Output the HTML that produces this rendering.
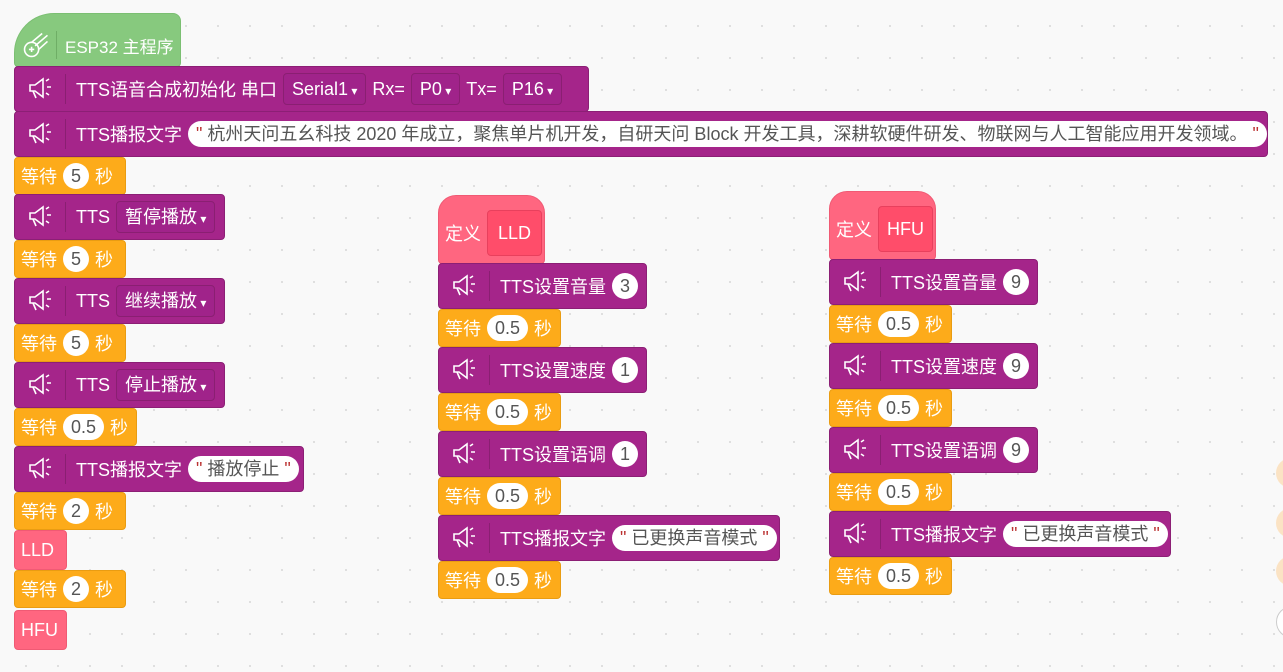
<!DOCTYPE html>
<html><head><meta charset="utf-8"><style>
body{margin:0;width:1283px;height:672px;overflow:hidden;background:#f9f9f9;background-image:radial-gradient(#ddd 1px,transparent 1.2px);background-size:32px 32px;background-position:10px 10px;font-family:"Liberation Sans","Noto Sans CJK SC",sans-serif;position:relative}
.b{position:absolute;box-sizing:border-box;color:#fff;font-size:18px;display:flex;align-items:center;white-space:nowrap;border-radius:4px}
.b svg{flex-shrink:0}
.p{background:#a5258a;border:1px solid #8c1f75;height:46px}
.o{background:#fdab1a;border:1px solid #e99c12;height:38px;padding-left:6px}
.k{background:#ff6680;border:1px solid #f05a74;height:40px;padding-left:6px}
.ic{width:50px;height:30px;border-right:1px solid #8a1f72;display:flex;align-items:center;justify-content:center;margin-right:10px;flex-shrink:0}
.pill{background:#fff;color:#555;border-radius:14px;height:26px;line-height:26px;padding:0 8px;margin:0 6px;font-size:18px}
.dd{border:1px solid #8a1f72;background:#a0238a;border-radius:4px;height:30px;line-height:30px;padding:0 8px;margin:0 6px}
.dd:after{content:" ▾";font-size:12px}
.q{color:#b33}
</style></head><body>
<svg width="0" height="0" style="position:absolute"><defs><g id="sp" fill="none" stroke="#fff" stroke-width="1.6"><path d="M3 9h5l8-6v18l-8-6H3z"/><path d="M6 15l3 7"/><path d="M19 5l3-2M20 11h4M19 17l3 2"/></g></defs></svg>

<div class="b" style="left:14px;top:13px;height:54px;background:#87c97e;border-radius:40px 8px 4px 4px;border:1px solid #7bbf72;padding:10px 6px 0 6px;font-size:17px">
<svg width="30" height="30" viewBox="0 0 34 34" fill="none" stroke="#fff" stroke-width="1.8"><circle cx="12" cy="22" r="8"/><path d="M9 22h6M12 19v6"/><path d="M12 14l12-10M16 18l14-12M20 22l10-9"/></svg>
<span style="border-left:1px solid #6fae66;height:28px;margin:0 8px 0 5px"></span><span>ESP32 主程序</span></div>

<div class="b p" style="left:14px;top:66px;width:575px"><span class="ic"><svg width="26" height="26"><use href="#sp"/></svg></span>TTS语音合成初始化 串口<span class="dd">Serial1</span>Rx=<span class="dd">P0</span>Tx=<span class="dd">P16</span></div>
<div class="b p" style="left:14px;top:111px;width:1254px"><span class="ic"><svg width="26" height="26"><use href="#sp"/></svg></span>TTS播报文字<span class="pill"><span class="q">"</span> 杭州天问五幺科技 2020 年成立，聚焦单片机开发，自研天问 Block 开发工具，深耕软硬件研发、物联网与人工智能应用开发领域。 <span class="q">"</span></span></div>
<div class="b o" style="left:14px;top:157px;width:112px">等待<span class="pill">5</span>秒</div>
<div class="b p" style="left:14px;top:194px;width:211px"><span class="ic"><svg width="26" height="26"><use href="#sp"/></svg></span>TTS<span class="dd">暂停播放</span></div>
<div class="b o" style="left:14px;top:240px;width:112px">等待<span class="pill">5</span>秒</div>
<div class="b p" style="left:14px;top:278px;width:211px"><span class="ic"><svg width="26" height="26"><use href="#sp"/></svg></span>TTS<span class="dd">继续播放</span></div>
<div class="b o" style="left:14px;top:324px;width:112px">等待<span class="pill">5</span>秒</div>
<div class="b p" style="left:14px;top:362px;width:211px"><span class="ic"><svg width="26" height="26"><use href="#sp"/></svg></span>TTS<span class="dd">停止播放</span></div>
<div class="b o" style="left:14px;top:408px;width:123px">等待<span class="pill">0.5</span>秒</div>
<div class="b p" style="left:14px;top:446px;width:290px"><span class="ic"><svg width="26" height="26"><use href="#sp"/></svg></span>TTS播报文字<span class="pill"><span class="q">"</span> 播放停止 <span class="q">"</span></span></div>
<div class="b o" style="left:14px;top:492px;width:112px">等待<span class="pill">2</span>秒</div>
<div class="b k" style="left:14px;top:530px;width:53px">LLD</div>
<div class="b o" style="left:14px;top:570px;width:112px">等待<span class="pill">2</span>秒</div>
<div class="b k" style="left:14px;top:610px;width:53px">HFU</div>

<div class="b k" style="left:438px;top:195px;width:107px;height:69px;border-radius:18px 18px 4px 4px;padding-left:6px;padding-top:6px">定义<span style="background:#ff4d6a;border:1px solid #e8405d;border-radius:4px;height:44px;line-height:44px;padding:0 10px;margin-left:6px">LLD</span></div>
<div class="b p" style="left:438px;top:263px;width:209px"><span class="ic"><svg width="26" height="26"><use href="#sp"/></svg></span>TTS设置音量<span class="pill">3</span></div>
<div class="b o" style="left:438px;top:309px;width:123px">等待<span class="pill">0.5</span>秒</div>
<div class="b p" style="left:438px;top:347px;width:209px"><span class="ic"><svg width="26" height="26"><use href="#sp"/></svg></span>TTS设置速度<span class="pill">1</span></div>
<div class="b o" style="left:438px;top:393px;width:123px">等待<span class="pill">0.5</span>秒</div>
<div class="b p" style="left:438px;top:431px;width:209px"><span class="ic"><svg width="26" height="26"><use href="#sp"/></svg></span>TTS设置语调<span class="pill">1</span></div>
<div class="b o" style="left:438px;top:477px;width:123px">等待<span class="pill">0.5</span>秒</div>
<div class="b p" style="left:438px;top:515px;width:342px"><span class="ic"><svg width="26" height="26"><use href="#sp"/></svg></span>TTS播报文字<span class="pill"><span class="q">"</span> 已更换声音模式 <span class="q">"</span></span></div>
<div class="b o" style="left:438px;top:561px;width:123px">等待<span class="pill">0.5</span>秒</div>

<div class="b k" style="left:829px;top:191px;width:107px;height:69px;border-radius:18px 18px 4px 4px;padding-left:6px;padding-top:6px">定义<span style="background:#ff4d6a;border:1px solid #e8405d;border-radius:4px;height:44px;line-height:44px;padding:0 8px;margin-left:6px">HFU</span></div>
<div class="b p" style="left:829px;top:259px;width:209px"><span class="ic"><svg width="26" height="26"><use href="#sp"/></svg></span>TTS设置音量<span class="pill">9</span></div>
<div class="b o" style="left:829px;top:305px;width:123px">等待<span class="pill">0.5</span>秒</div>
<div class="b p" style="left:829px;top:343px;width:209px"><span class="ic"><svg width="26" height="26"><use href="#sp"/></svg></span>TTS设置速度<span class="pill">9</span></div>
<div class="b o" style="left:829px;top:389px;width:123px">等待<span class="pill">0.5</span>秒</div>
<div class="b p" style="left:829px;top:427px;width:209px"><span class="ic"><svg width="26" height="26"><use href="#sp"/></svg></span>TTS设置语调<span class="pill">9</span></div>
<div class="b o" style="left:829px;top:473px;width:123px">等待<span class="pill">0.5</span>秒</div>
<div class="b p" style="left:829px;top:511px;width:342px"><span class="ic"><svg width="26" height="26"><use href="#sp"/></svg></span>TTS播报文字<span class="pill"><span class="q">"</span> 已更换声音模式 <span class="q">"</span></span></div>
<div class="b o" style="left:829px;top:557px;width:123px">等待<span class="pill">0.5</span>秒</div>

<div style="position:absolute;left:1276px;top:458px;width:30px;height:30px;border-radius:50%;background:#fbe3c4"></div>
<div style="position:absolute;left:1276px;top:508px;width:30px;height:30px;border-radius:50%;background:#fbe3c4"></div>
<div style="position:absolute;left:1276px;top:556px;width:30px;height:30px;border-radius:50%;background:#fbe3c4"></div>
<div style="position:absolute;left:1276px;top:606px;width:30px;height:30px;border-radius:50%;background:#fff;border:1px solid #ccc"></div>
</body></html>
